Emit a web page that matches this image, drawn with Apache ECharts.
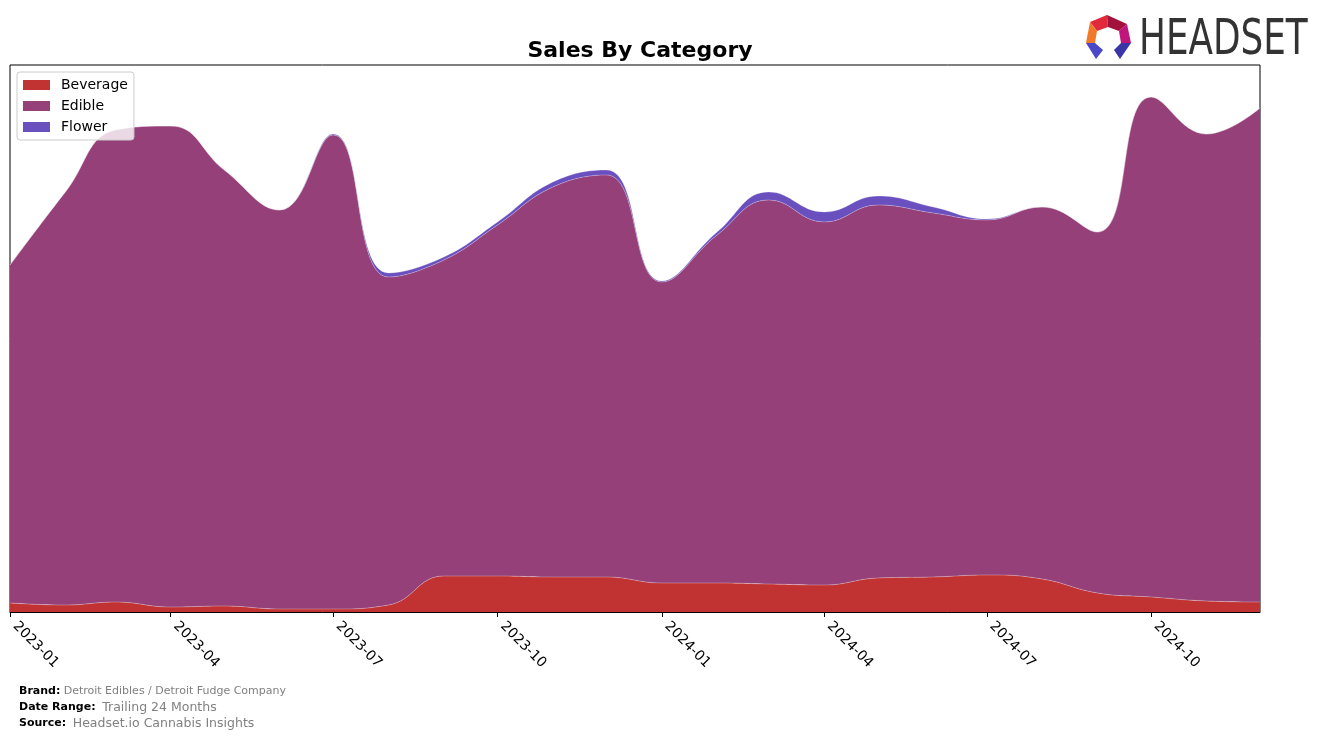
<!DOCTYPE html>
<html>
<head>
<meta charset="utf-8">
<script src="https://cdn.jsdelivr.net/npm/echarts@6/dist/echarts.min.js"></script>
<style>
html,body{margin:0;padding:0;background:#fff;}
#chart{width:1324px;height:739px;}
</style>
</head>
<body>
<div id="chart"></div>
<script>
const months = ["2023-01","2023-02","2023-03","2023-04","2023-05","2023-06","2023-07","2023-08","2023-09","2023-10","2023-11","2023-12",
                "2024-01","2024-02","2024-03","2024-04","2024-05","2024-06","2024-07","2024-08","2024-09","2024-10","2024-11","2024-12"];
const beverage = [9,7,10,5,6,3,3,7,36,36,35,35,29,29,28,27,34,35,37,33,19,15,11,10];
const edible   = [338,413,472,481,436,399,474,328,316,351,390,402,301,348,384,363,373,364,355,372,361,500,467,494];
const flower   = [0,0,0,0,0,0,1,4,3,3,5,5,1,3,8,10,9,6,1,0,0,0,0,0];
const tickMonths = ["2023-01","2023-04","2023-07","2023-10","2024-01","2024-04","2024-07","2024-10"];
const seriesNames = ["Beverage","Edible","Flower"];
const colors = ["#c13333","#954078","#6a4fbf"];

function ts(m){ const p = m.split("-"); return Date.UTC(+p[0], +p[1]-1, 1); }
function fmt(v){ const d = new Date(v); return d.getUTCFullYear() + "-" + String(d.getUTCMonth()+1).padStart(2,"0"); }
const xs = months.map(ts);
const tickVals = tickMonths.map(ts);
const seriesData = [beverage, edible, flower];

const chart = echarts.init(document.getElementById("chart"), null, {renderer:"canvas"});
const font = "DejaVu Sans";
chart.setOption({
  animation:false,
  backgroundColor:"#fff",
  color:colors,
  title:{text:"Sales By Category", left:635, top:35, textAlign:"center",
    textStyle:{fontFamily:font, fontWeight:"bold", fontSize:22, color:"#000"}},
  legend:{orient:"vertical", left:17, top:72, itemWidth:27, itemHeight:10, itemGap:7,
    padding:[6,6,6,6], backgroundColor:"rgba(255,255,255,0.8)", borderColor:"#cccccc", borderWidth:1, borderRadius:3,
    icon:"rect", textStyle:{fontFamily:font, fontSize:14, color:"#000", padding:[0,0,0,6]},
    data:seriesNames},
  grid:{left:10, right:64, top:65, bottom:127, show:true, borderColor:"#000", borderWidth:1, containLabel:false},
  xAxis:[
    {type:"time", min:xs[0], max:xs[xs.length-1], show:false, splitLine:{show:false}},
    {type:"value", min:xs[0], max:xs[xs.length-1], position:"bottom",
      axisLine:{show:true, onZero:false, lineStyle:{color:"#000", width:1}},
      axisTick:{show:true, customValues:tickVals, length:5, lineStyle:{color:"#000"}},
      axisLabel:{customValues:tickVals, rotate:-45, formatter:function(v){return fmt(v);},
        fontFamily:font, fontSize:14, color:"#000", margin:17, verticalAlign:"bottom", align:"left"},
      splitLine:{show:false}}
  ],
  yAxis:{type:"value", min:0, max:547, show:false, splitLine:{show:false}},
  series:seriesNames.map(function(n,i){
    return {name:n, type:"line", stack:"total", smooth:0.45, symbol:"none", showSymbol:false,
      xAxisIndex:0,
      lineStyle:{width:0.8, color:"rgba(255,255,255,0.35)"},
      areaStyle:{color:colors[i], opacity:1},
      itemStyle:{color:colors[i]},
      data:xs.map(function(x,j){return [x, seriesData[i][j]];})};
  }),
  graphic:[
    {type:"text", left:19, top:685, style:{rich:{b:{fontFamily:font,fontWeight:"bold",fontSize:11,fill:"#000"},g:{fontFamily:font,fontSize:11,fill:"#808080"}},
      text:"{b|Brand:} {g|Detroit Edibles / Detroit Fudge Company}"}},
    {type:"text", left:19, top:701, style:{rich:{b:{fontFamily:font,fontWeight:"bold",fontSize:11,fill:"#000"},g:{fontFamily:font,fontSize:12.5,fill:"#808080"}},
      text:"{b|Date Range:}  {g|Trailing 24 Months}"}},
    {type:"text", left:19, top:717, style:{rich:{b:{fontFamily:font,fontWeight:"bold",fontSize:11,fill:"#000"},g:{fontFamily:font,fontSize:12.5,fill:"#808080"}},
      text:"{b|Source:}  {g|Headset.io Cannabis Insights}"}},
    {type:"polygon", shape:{points:[[1090,22],[1107,15],[1108,27],[1097,31]]}, style:{fill:"#e0293b"}},
    {type:"polygon", shape:{points:[[1107,15],[1127,24],[1119,31],[1108,27]]}, style:{fill:"#a3123d"}},
    {type:"polygon", shape:{points:[[1127,24],[1131,43],[1121,43],[1119,31]]}, style:{fill:"#c0157a"}},
    {type:"polygon", shape:{points:[[1090,22],[1097,31],[1095,43],[1086,43]]}, style:{fill:"#f07a2a"}},
    {type:"polygon", shape:{points:[[1086,43],[1095,43],[1103,50],[1096,59]]}, style:{fill:"#4a48c8"}},
    {type:"polygon", shape:{points:[[1121,43],[1131,43],[1120,59],[1114,50]]}, style:{fill:"#3a36a8"}},
    {type:"text", left:1139, top:17, scaleX:0.73, style:{text:"HEADSET", fontFamily:font, fontSize:49, fill:"#333333"}}
  ]
});
</script>
</body>
</html>
